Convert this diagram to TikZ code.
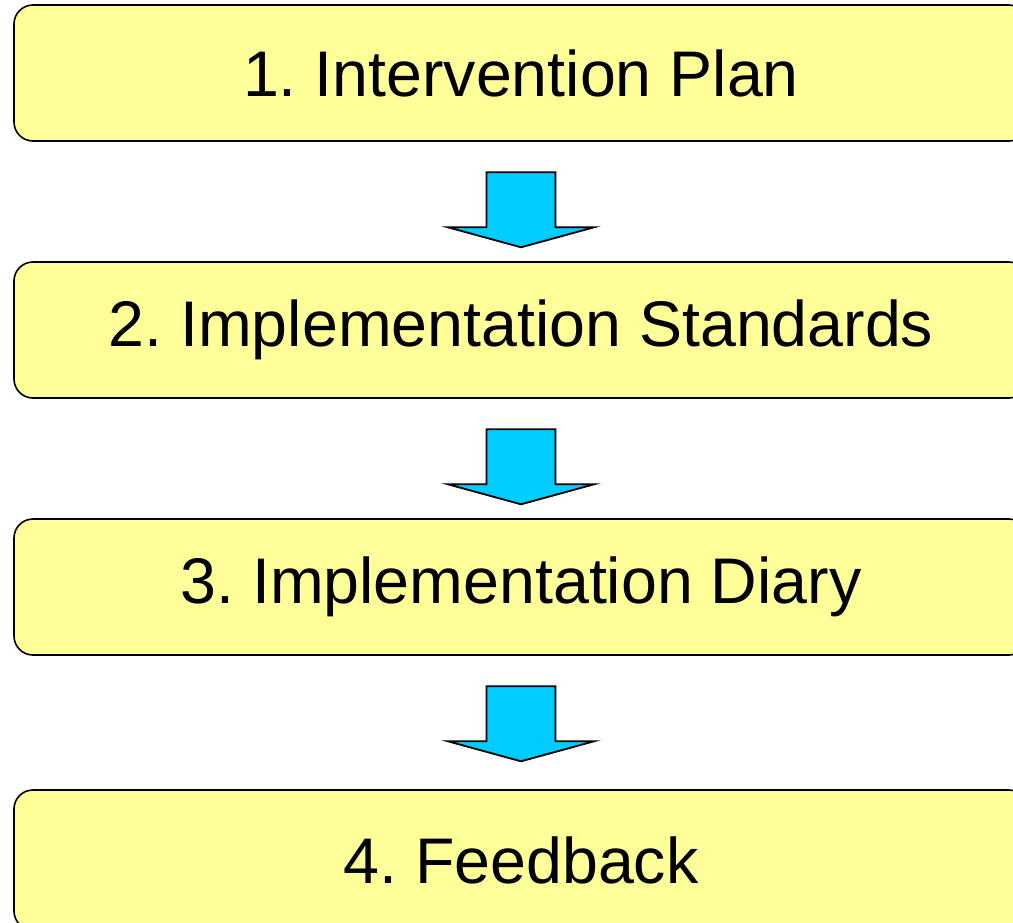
\documentclass[tikz,border=0pt]{standalone}
\usepackage{fontspec}
\setmainfont{Liberation Sans}
\frenchspacing
\definecolor{stageyellow}{HTML}{FFFF99}
\definecolor{arrowcyan}{HTML}{00CCFF}
\tikzset{
	stagebox/.style={draw=black,line width=1.6pt,fill=stageyellow,rounded corners=19pt,minimum width=1014pt,minimum height=136pt,inner sep=0,font=\fontsize{64.5}{78}\selectfont},
	blockarrow/.style={draw=black,line width=1.8pt,fill=arrowcyan,line join=miter}
}
\begin{document}
\begin{tikzpicture}[x=1pt,y=-1pt]
	\useasboundingbox (0,0) rectangle (1013,922);
	\node[stagebox] (plan) at (521,73) {1. Intervention Plan};
	\node[stagebox] (standards) at (521,330) {2. Implementation Standards};
	\node[stagebox] (diary) at (521,587) {3. Implementation Diary};
	\node[stagebox,minimum height=140pt] (feedback) at (521,860) {4. Feedback};
	% block arrows between the stages
	\foreach \from in {plan,standards,diary}{
		\coordinate (\from-arrow) at ([yshift=-30.5pt]\from.south);
		\draw[blockarrow,shift={(\from-arrow)}] (-34.5,0) -- (34.5,0) -- (34.5,55) -- (73,55) -- (0,75) -- (-73,55) -- (-34.5,55) -- cycle;
	}
\end{tikzpicture}
\end{document}
